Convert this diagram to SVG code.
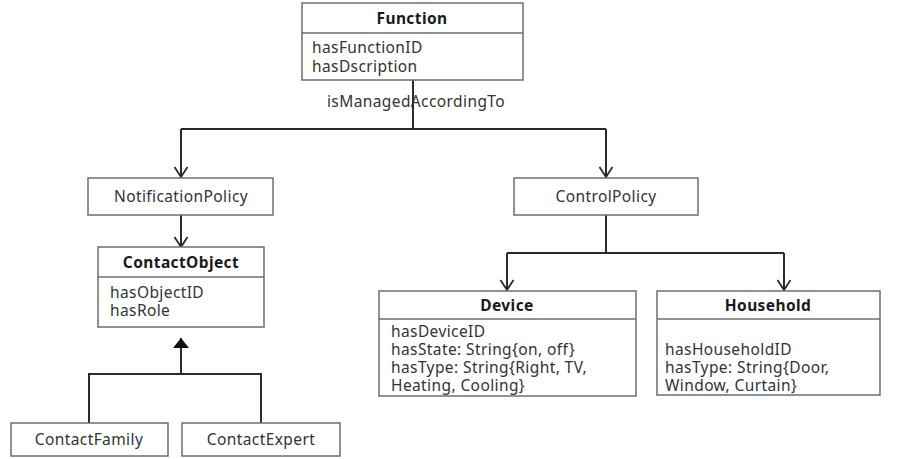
<svg xmlns="http://www.w3.org/2000/svg" width="903" height="459" viewBox="0 0 903 459">
  <style>
    .box { fill: #ffffff; stroke: #6e6e6e; stroke-width: 1.5; }
    .sep { stroke: #6e6e6e; stroke-width: 1.5; }
    .title { font-family: "Noto Sans", "Open Sans", sans-serif; font-size: 15.5px; letter-spacing: 0.4px; font-weight: bold; fill: #1a1a1a; text-anchor: middle; }
    .name { font-family: "Noto Sans", "Open Sans", sans-serif; font-size: 15.5px; letter-spacing: 0.4px; fill: #333333; text-anchor: middle; }
    .attr { font-family: "Noto Sans", "Open Sans", sans-serif; font-size: 15.5px; letter-spacing: 0.4px; fill: #333333; }
    .wire { fill: none; stroke: #2b2b2b; stroke-width: 2; }
  </style>
  <defs>
    <marker id="open" viewBox="0 0 16 12" refX="8" refY="11" markerWidth="16" markerHeight="12" markerUnits="userSpaceOnUse" orient="0">
      <path d="M1.5,1 L8,11 L14.5,1" fill="none" stroke="#2b2b2b" stroke-width="1.8"/>
    </marker>
    <marker id="solid" viewBox="0 0 18 12" refX="9" refY="1" markerWidth="18" markerHeight="12" markerUnits="userSpaceOnUse" orient="0">
      <path d="M9,1 L17,11 L1,11 Z" fill="#111111"/>
    </marker>
  </defs>

  <rect width="903" height="459" fill="#ffffff"/>

  <!-- connectors -->
  <g id="connectors">
    <path class="wire" d="M413,80 V129"/>
    <path class="wire" d="M181,129 H606"/>
    <path class="wire" d="M181,129 V177" marker-end="url(#open)"/>
    <path class="wire" d="M606,129 V177" marker-end="url(#open)"/>
    <path class="wire" d="M181,215 V247" marker-end="url(#open)"/>
    <path class="wire" d="M606,215 V253"/>
    <path class="wire" d="M507,253 H784"/>
    <path class="wire" d="M507,253 V290" marker-end="url(#open)"/>
    <path class="wire" d="M784,253 V290" marker-end="url(#open)"/>
    <path class="wire" d="M89,423 V374 H261 V423"/>
    <path class="wire" d="M181,374 V338" marker-end="url(#solid)"/>
    <text class="name" x="416" y="107">isManagedAccordingTo</text>
  </g>

  <g id="function">
    <rect class="box" x="302" y="3" width="221" height="77"/>
    <line class="sep" x1="302" y1="33" x2="523" y2="33"/>
    <text class="title" x="412" y="24">Function</text>
    <text class="attr" x="312" y="53">hasFunctionID</text>
    <text class="attr" x="312" y="72">hasDscription</text>
  </g>

  <g id="notificationPolicy">
    <rect class="box" x="88" y="178" width="185" height="37"/>
    <text class="name" x="181" y="202">NotificationPolicy</text>
  </g>

  <g id="controlPolicy">
    <rect class="box" x="514" y="178" width="184" height="37"/>
    <text class="name" x="606" y="202">ControlPolicy</text>
  </g>

  <g id="contactObject">
    <rect class="box" x="98" y="247" width="166" height="80"/>
    <line class="sep" x1="98" y1="277" x2="264" y2="277"/>
    <text class="title" x="181" y="268">ContactObject</text>
    <text class="attr" x="110" y="298">hasObjectID</text>
    <text class="attr" x="110" y="316">hasRole</text>
  </g>

  <g id="contactFamily">
    <rect class="box" x="11" y="423" width="157" height="33"/>
    <text class="name" x="89" y="445">ContactFamily</text>
  </g>

  <g id="contactExpert">
    <rect class="box" x="182" y="423" width="158" height="33"/>
    <text class="name" x="261" y="445">ContactExpert</text>
  </g>

  <g id="device">
    <rect class="box" x="379" y="291" width="257" height="105"/>
    <line class="sep" x1="379" y1="319" x2="636" y2="319"/>
    <text class="title" x="507" y="311">Device</text>
    <text class="attr" x="391" y="337">hasDeviceID</text>
    <text class="attr" x="391" y="355">hasState: String{on, off}</text>
    <text class="attr" x="391" y="373">hasType: String{Right, TV,</text>
    <text class="attr" x="391" y="391">Heating, Cooling}</text>
  </g>

  <g id="household">
    <rect class="box" x="657" y="291" width="223" height="104"/>
    <line class="sep" x1="657" y1="319" x2="880" y2="319"/>
    <text class="title" x="768" y="311">Household</text>
    <text class="attr" x="665" y="355">hasHouseholdID</text>
    <text class="attr" x="665" y="373">hasType: String{Door,</text>
    <text class="attr" x="665" y="391">Window, Curtain}</text>
  </g>
</svg>
